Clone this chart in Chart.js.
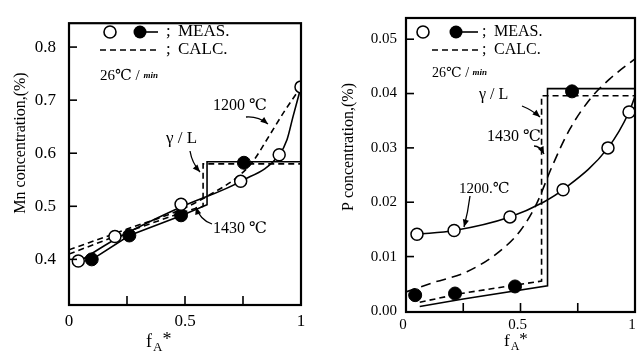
<!DOCTYPE html>
<html>
<head>
<meta charset="utf-8">
<script src="https://cdn.jsdelivr.net/npm/chart.js@4.4.1/dist/chart.umd.min.js"></script>
<style>
  html, body { margin: 0; padding: 0; background: #fff; }
  #wrap { position: relative; width: 644px; height: 354px; }
  .pane { position: absolute; top: 0; width: 322px; height: 354px; }
</style>
</head>
<body>
<div id="wrap">
  <div class="pane" style="left:0"><canvas id="mnChart" width="322" height="354"></canvas></div>
  <div class="pane" style="left:322px"><canvas id="pChart" width="322" height="354"></canvas></div>
</div>
<script>
// ---- Mn panel (left) ----
const mnOpenX = [0.04, 0.198, 0.483, 0.74, 0.906, 1.0];
const mnOpenY = [0.397, 0.443, 0.504, 0.547, 0.597, 0.725];
const mnFillX = [0.098, 0.26, 0.483, 0.754];
const mnFillY = [0.400, 0.445, 0.483, 0.582];
// solid curve through the open circles (1200 C)
const mnMeas1200X = [0.04, 0.2, 0.48, 0.74, 0.906, 0.94, 0.965, 1.0];
const mnMeas1200Y = [0.395, 0.438, 0.498, 0.547, 0.597, 0.626, 0.668, 0.725];
// solid step through the filled circles (1430 C)
const mnMeas1430X = [0.1, 0.26, 0.483, 0.595, 0.595, 1.0];
const mnMeas1430Y = [0.400, 0.445, 0.482, 0.503, 0.584, 0.584];
// calculated
const mnCalc1430X = [0.0, 0.25, 0.5, 0.578, 0.578, 1.0];
const mnCalc1430Y = [0.410, 0.452, 0.490, 0.500, 0.580, 0.580];
const mnCalc1200X = [0.0, 0.25, 0.5, 0.62, 0.72, 0.79, 0.866, 0.93, 1.0];
const mnCalc1200Y = [0.418, 0.457, 0.497, 0.525, 0.553, 0.583, 0.635, 0.68, 0.725];
const mnYTicks = [0.4, 0.5, 0.6, 0.7, 0.8];

// ---- P panel (right) ----
const pOpenX = [0.048, 0.21, 0.454, 0.686, 0.882, 0.974];
const pOpenY = [0.0141, 0.0148, 0.0173, 0.0223, 0.0300, 0.0366];
const pFillX = [0.04, 0.214, 0.476, 0.725];
const pFillY = [0.0029, 0.0032, 0.0045, 0.0404];
const pMeas1200X = [0.048, 0.21, 0.454, 0.6, 0.686, 0.882, 0.974, 1.0];
const pMeas1200Y = [0.0141, 0.0148, 0.0173, 0.0200, 0.0223, 0.0300, 0.0366, 0.0395];
const pMeas1430X = [0.06, 0.25, 0.618, 0.618, 1.0];
const pMeas1430Y = [0.0008, 0.0022, 0.0046, 0.0409, 0.0409];
const pCalc1430X = [0.06, 0.24, 0.592, 0.592, 1.0];
const pCalc1430Y = [0.0016, 0.0032, 0.0055, 0.0396, 0.0396];
const pCalc1200X = [0.0, 0.118, 0.266, 0.41, 0.5, 0.57, 0.64, 0.716, 0.81, 0.89, 1.0];
const pCalc1200Y = [0.0035, 0.0052, 0.0072, 0.0110, 0.0148, 0.0197, 0.0268, 0.0335, 0.0393, 0.0427, 0.0464];
const pYTicks = [0.00, 0.01, 0.02, 0.03, 0.04, 0.05];

const xTicks = [0, 0.25, 0.5, 0.75, 1];
const xLabels = { 0: '0', 0.5: '0.5', 1: '1' };

const SERIF = '"Liberation Serif", "DejaVu Serif", serif';

function pts(xs, ys) {
  return xs.map((x, i) => ({ x: x, y: ys[i] }));
}

function arrow(ctx, x0, y0, cx, cy, x1, y1) {
  ctx.beginPath();
  ctx.moveTo(x0, y0);
  ctx.quadraticCurveTo(cx, cy, x1, y1);
  ctx.stroke();
  const ang = Math.atan2(y1 - cy, x1 - cx);
  ctx.beginPath();
  ctx.moveTo(x1, y1);
  ctx.lineTo(x1 - 8 * Math.cos(ang - 0.4), y1 - 8 * Math.sin(ang - 0.4));
  ctx.lineTo(x1 - 8 * Math.cos(ang + 0.4), y1 - 8 * Math.sin(ang + 0.4));
  ctx.closePath();
  ctx.fill();
}

// frame, inward tick marks, titles, legend and notes
const deco = {
  id: 'deco',
  afterDraw(chart, args, o) {
    const { ctx, chartArea: a, scales } = chart;
    const x = scales.x, y = scales.y;
    ctx.save();
    ctx.strokeStyle = '#000';
    ctx.fillStyle = '#000';
    ctx.lineWidth = 1.6;
    o.xMarks.forEach(v => {
      const px = x.getPixelForValue(v);
      ctx.beginPath(); ctx.moveTo(px, a.bottom); ctx.lineTo(px, a.bottom - 9); ctx.stroke();
    });
    o.yMarks.forEach(v => {
      const py = y.getPixelForValue(v);
      ctx.beginPath(); ctx.moveTo(a.left, py); ctx.lineTo(a.left + 8, py); ctx.stroke();
    });
    ctx.lineWidth = 2.2;
    ctx.strokeRect(a.left, a.top, a.right - a.left, a.bottom - a.top);

    // y title
    ctx.save();
    ctx.translate(o.yTitle.x, o.yTitle.y);
    ctx.rotate(-Math.PI / 2);
    ctx.font = o.yTitle.size + 'px ' + SERIF;
    ctx.textAlign = 'center';
    ctx.textBaseline = 'middle';
    ctx.fillText(o.yTitle.text, 0, 0);
    ctx.restore();

    // x title f_A*
    ctx.textBaseline = 'alphabetic';
    ctx.textAlign = 'left';
    let tx = o.xTitle.x;
    ctx.font = o.xTitle.size + 'px ' + SERIF;
    ctx.fillText('f', tx, o.xTitle.y);
    tx += ctx.measureText('f').width + 1;
    ctx.font = Math.round(o.xTitle.size * 0.7) + 'px ' + SERIF;
    ctx.fillText('A', tx, o.xTitle.y + 4);
    tx += ctx.measureText('A').width;
    ctx.font = o.xTitle.size + 'px ' + SERIF;
    ctx.fillText('*', tx, o.xTitle.y - 2);

    // legend
    const L = o.legend;
    ctx.lineWidth = 1.6;
    ctx.beginPath(); ctx.arc(L.openX, L.y1, 6, 0, 2 * Math.PI);
    ctx.fillStyle = '#fff'; ctx.fill(); ctx.stroke();
    ctx.fillStyle = '#000';
    ctx.beginPath(); ctx.moveTo(L.fillX, L.y1); ctx.lineTo(L.lineEnd, L.y1); ctx.stroke();
    ctx.beginPath(); ctx.arc(L.fillX, L.y1, 6.5, 0, 2 * Math.PI); ctx.fill();
    ctx.setLineDash([6, 4]);
    ctx.beginPath(); ctx.moveTo(L.dashStart, L.y2); ctx.lineTo(L.lineEnd, L.y2); ctx.stroke();
    ctx.setLineDash([]);
    ctx.font = L.size + 'px ' + SERIF;
    ctx.textBaseline = 'middle';
    ctx.fillText(';', L.textX, L.y1);
    ctx.fillText(';', L.textX, L.y2);
    ctx.fillText('MEAS.', L.textX + 12, L.y1);
    ctx.fillText('CALC.', L.textX + 12, L.y2);

    // cooling rate
    ctx.font = o.rate.size + 'px ' + SERIF;
    ctx.fillText('26℃ / ', o.rate.x, o.rate.y);
    const rw = ctx.measureText('26℃ / ').width;
    ctx.font = 'bold italic 9px ' + SERIF;
    ctx.fillText('min', o.rate.x + rw, o.rate.y);

    // notes with arrows
    ctx.lineWidth = 1.3;
    o.notes.forEach(n => {
      ctx.font = n.size + 'px ' + SERIF;
      ctx.textAlign = 'left';
      ctx.fillText(n.text, n.x, n.y);
      arrow(ctx, n.a[0], n.a[1], n.a[2], n.a[3], n.a[4], n.a[5]);
    });
    ctx.restore();
  }
};

function panel(id, cfg) {
  const solid = { borderColor: '#000', borderWidth: 1.6, pointRadius: 0, fill: false };
  return new Chart(document.getElementById(id), {
    type: 'line',
    data: {
      datasets: [
        { data: pts(cfg.openX, cfg.openY), showLine: false, pointRadius: 6, pointBorderWidth: 1.5,
          pointBackgroundColor: '#fff', pointBorderColor: '#000' },
        { data: pts(cfg.fillX, cfg.fillY), showLine: false, pointRadius: 6.5, pointBorderWidth: 1,
          pointBackgroundColor: '#000', pointBorderColor: '#000' },
        Object.assign({ data: pts(cfg.m1200X, cfg.m1200Y), cubicInterpolationMode: 'monotone' }, solid),
        Object.assign({ data: pts(cfg.m1430X, cfg.m1430Y), tension: 0 }, solid),
        Object.assign({ data: pts(cfg.c1430X, cfg.c1430Y), tension: 0, borderDash: [6, 4] }, solid),
        Object.assign({ data: pts(cfg.c1200X, cfg.c1200Y), cubicInterpolationMode: 'monotone',
          borderDash: cfg.c1200Dash }, solid)
      ]
    },
    options: {
      responsive: false,
      animation: false,
      layout: { padding: cfg.pad },
      plugins: { legend: { display: false }, tooltip: { enabled: false }, deco: cfg.deco },
      scales: {
        x: {
          type: 'linear', min: 0, max: 1,
          afterBuildTicks: s => { s.ticks = xTicks.map(v => ({ value: v })); },
          afterFit: s => { s.height = cfg.xH; },
          grid: { display: false, drawTicks: false },
          border: { display: false },
          ticks: { color: '#000', padding: cfg.xPad, autoSkip: false, maxRotation: 0,
            labelOffset: cfg.xOff,
            font: { family: SERIF, size: cfg.tickSize },
            callback: v => (xLabels[v] !== undefined ? xLabels[v] : '') }
        },
        y: {
          type: 'linear', min: cfg.yMin, max: cfg.yMax,
          afterBuildTicks: s => { s.ticks = cfg.yTicks.map(v => ({ value: v })); },
          afterFit: s => { s.width = cfg.yW; },
          grid: { display: false, drawTicks: false },
          border: { display: false },
          ticks: { color: '#000', padding: cfg.yPad, autoSkip: false,
            font: { family: SERIF, size: cfg.tickSize },
            callback: v => v.toFixed(cfg.dec) }
        }
      }
    },
    plugins: [deco]
  });
}

panel('mnChart', {
  openX: mnOpenX, openY: mnOpenY, fillX: mnFillX, fillY: mnFillY,
  m1200X: mnMeas1200X, m1200Y: mnMeas1200Y, m1430X: mnMeas1430X, m1430Y: mnMeas1430Y,
  c1430X: mnCalc1430X, c1430Y: mnCalc1430Y, c1200X: mnCalc1200X, c1200Y: mnCalc1200Y,
  c1200Dash: [6, 4],
  yMin: 0.314, yMax: 0.845, yTicks: mnYTicks, dec: 1,
  pad: { left: 0, top: 5, right: 21, bottom: 0 },
  xH: 49, yW: 69, xPad: 6, yPad: 13, tickSize: 17, xOff: 0,
  deco: {
    xMarks: [0.25, 0.5, 0.75], yMarks: mnYTicks,
    yTitle: { text: 'Mn concentration,(%)', x: 21, y: 143, size: 16 },
    xTitle: { x: 146, y: 347, size: 18 },
    legend: { openX: 110, fillX: 140, lineEnd: 158, dashStart: 100, textX: 166, y1: 32, y2: 50, size: 17 },
    rate: { x: 100, y: 76, size: 15 },
    notes: [
      { text: 'γ / L', x: 166, y: 139, size: 17, a: [190, 151, 192, 163, 200, 172] },
      { text: '1200 ℃', x: 213, y: 106, size: 16, a: [246, 117, 258, 116, 268, 124] },
      { text: '1430 ℃', x: 213, y: 229, size: 16, a: [212, 224, 200, 220, 196, 207] }
    ]
  }
});

panel('pChart', {
  openX: pOpenX, openY: pOpenY, fillX: pFillX, fillY: pFillY,
  m1200X: pMeas1200X, m1200Y: pMeas1200Y, m1430X: pMeas1430X, m1430Y: pMeas1430Y,
  c1430X: pCalc1430X, c1430Y: pCalc1430Y, c1200X: pCalc1200X, c1200Y: pCalc1200Y,
  c1200Dash: [10, 6],
  yMin: -0.0002, yMax: 0.0539, yTicks: pYTicks, dec: 2,
  pad: { left: 0, top: 10, right: 9, bottom: 0 },
  xH: 42, yW: 84, xPad: 4, yPad: 9, tickSize: 15, xOff: -3,
  deco: {
    xMarks: [0.25, 0.5, 0.75], yMarks: [0.01, 0.02, 0.03, 0.04, 0.05],
    yTitle: { text: 'P concentration,(%)', x: 27, y: 147, size: 16 },
    xTitle: { x: 182, y: 346, size: 17 },
    legend: { openX: 101, fillX: 134, lineEnd: 156, dashStart: 110, textX: 160, y1: 32, y2: 50, size: 16 },
    rate: { x: 110, y: 73, size: 14 },
    notes: [
      { text: 'γ / L', x: 157, y: 95, size: 16, a: [200, 106, 210, 110, 218, 117] },
      { text: '1430 ℃', x: 165, y: 137, size: 16, a: [212, 146, 218, 146, 222, 154] },
      { text: '1200.℃', x: 137, y: 189, size: 15, a: [148, 196, 146, 212, 142, 227] }
    ]
  }
});
</script>
</body>
</html>
